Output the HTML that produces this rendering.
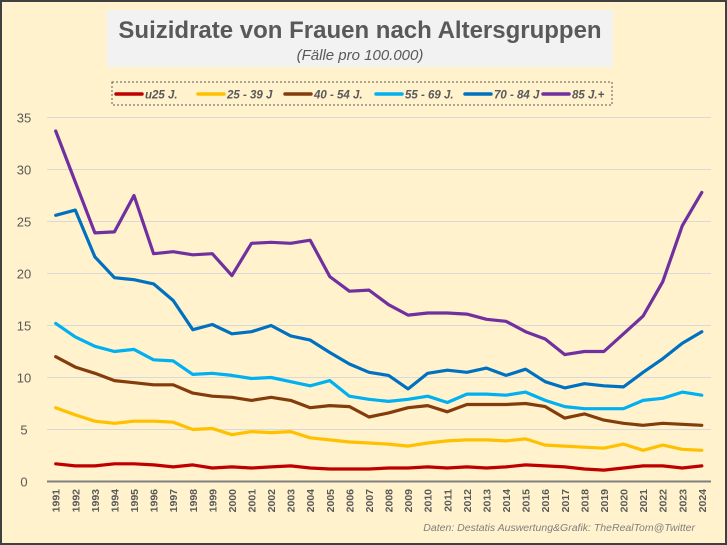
<!DOCTYPE html>
<html><head><meta charset="utf-8"><style>
html,body{margin:0;padding:0;}
body{width:727px;height:545px;background:#FFF2CC;position:relative;overflow:hidden;font-family:"Liberation Sans",sans-serif;}
#frame{position:absolute;left:0;top:0;width:723px;height:541px;border:2px solid #404040;}
</style></head><body>
<div id="frame"></div>
<svg id="chart" width="727" height="545" style="position:absolute;left:0;top:0">
<rect x="107" y="10" width="506" height="57" fill="#F2F2F2"/>
<text x="360" y="38" text-anchor="middle" font-size="24" font-weight="bold" fill="#595959">Suizidrate von Frauen nach Altersgruppen</text>
<text x="360" y="60" text-anchor="middle" font-size="15" font-style="italic" fill="#595959">(Fälle pro 100.000)</text>
<rect x="112" y="82" width="500" height="23" fill="none" stroke="#595959" stroke-dasharray="2,2"/>
<g id="grid"></g><g id="series"></g><g id="legend"></g><g id="axes"></g>
<text x="695" y="531" text-anchor="end" font-size="10.5" font-style="italic" fill="#7F7F7F">Daten: Destatis Auswertung&amp;Grafik: TheRealTom@Twitter</text>
</svg>
<script>
const years = [];
for (let y = 1991; y <= 2024; y++) years.push(y);
const yTicks = [0,5,10,15,20,25,30,35];
const seriesNames = ["u25 J.","25 - 39 J","40 - 54 J.","55 - 69 J.","70 - 84 J","85 J.+"];
const seriesColors = ["#C00000","#FFC000","#843C0C","#00B0F0","#0070C0","#7030A0"];
const u25 = [1.7,1.5,1.5,1.7,1.7,1.6,1.4,1.6,1.3,1.4,1.3,1.4,1.5,1.3,1.2,1.2,1.2,1.3,1.3,1.4,1.3,1.4,1.3,1.4,1.6,1.5,1.4,1.2,1.1,1.3,1.5,1.5,1.3,1.5];
const a25 = [7.1,6.4,5.8,5.6,5.8,5.8,5.7,5.0,5.1,4.5,4.8,4.7,4.8,4.2,4.0,3.8,3.7,3.6,3.4,3.7,3.9,4.0,4.0,3.9,4.1,3.5,3.4,3.3,3.2,3.6,3.0,3.5,3.1,3.0];
const a40 = [12.0,11.0,10.4,9.7,9.5,9.3,9.3,8.5,8.2,8.1,7.8,8.1,7.8,7.1,7.3,7.2,6.2,6.6,7.1,7.3,6.7,7.4,7.4,7.4,7.5,7.2,6.1,6.5,5.9,5.6,5.4,5.6,5.5,5.4];
const a55 = [15.2,13.9,13.0,12.5,12.7,11.7,11.6,10.3,10.4,10.2,9.9,10.0,9.6,9.2,9.7,8.2,7.9,7.7,7.9,8.2,7.6,8.4,8.4,8.3,8.6,7.8,7.2,7.0,7.0,7.0,7.8,8.0,8.6,8.3];
const a70 = [25.6,26.1,21.6,19.6,19.4,19.0,17.4,14.6,15.1,14.2,14.4,15.0,14.0,13.6,12.4,11.3,10.5,10.2,8.9,10.4,10.7,10.5,10.9,10.2,10.8,9.6,9.0,9.4,9.2,9.1,10.5,11.8,13.3,14.4];
const a85 = [33.7,28.8,23.9,24.0,27.5,21.9,22.1,21.8,21.9,19.8,22.9,23.0,22.9,23.2,19.7,18.3,18.4,17.0,16.0,16.2,16.2,16.1,15.6,15.4,14.4,13.7,12.2,12.5,12.5,14.2,15.9,19.2,24.6,27.8];
const allSeries = [u25,a25,a40,a55,a70,a85];

const NS = "http://www.w3.org/2000/svg";
const x0 = 55.7, xStep = 19.58, yBase = 481.5, yScale = 10.4;
const xPos = i => x0 + i * xStep;
const yPos = v => yBase - v * yScale;
function mk(tag, attrs, parent){const e=document.createElementNS(NS,tag);for(const k in attrs)e.setAttribute(k,attrs[k]);parent.appendChild(e);return e;}

const grid = document.getElementById('grid');
const axes = document.getElementById('axes');
yTicks.forEach(t => {
  if (t > 0) {
    const l = mk('line',{x1:47,x2:711,y1:yPos(t),y2:yPos(t),stroke:'#D9D9D9','stroke-width':1},grid);
    
    
  }
  const tx = mk('text',{x:24,y:yPos(t)+5,'text-anchor':'middle','font-size':13,fill:'#595959'},axes);
  tx.textContent = t;
  
  
});
const ax = mk('line',{x1:47,x2:711,y1:yBase,y2:yBase,stroke:'#7F7F7F','stroke-width':2},axes);


years.forEach((yr,i) => {
  const tx = mk('text',{x:0,y:0,'text-anchor':'end','font-size':10.5,'font-weight':'bold',fill:'#595959',transform:`translate(${xPos(i)+4},489) rotate(-90)`},axes);
  tx.textContent = yr;
  
  
});

const sg = document.getElementById('series');
allSeries.forEach((vals,s) => {
  const pts = vals.map((v,i)=>xPos(i).toFixed(1)+','+yPos(v).toFixed(1)).join(' ');
  const pl = mk('polyline',{points:pts,fill:'none',stroke:seriesColors[s],'stroke-width':3.2,'stroke-linejoin':'round','stroke-linecap':'round'},sg);
  
  
});

const lg = document.getElementById('legend');
const lx = [116,198,285,376,465,543];
seriesNames.forEach((n,s) => {
  const g = mk('g',{},lg);
  
  
  mk('line',{x1:lx[s],x2:lx[s]+26,y1:94,y2:94,stroke:seriesColors[s],'stroke-width':3.5,'stroke-linecap':'round'},g);
  const t = mk('text',{x:lx[s]+29,y:98.5,'font-size':11.5,'font-weight':'bold','font-style':'italic',fill:'#595959'},g);
  t.textContent = n;
});
</script>
</body></html>
